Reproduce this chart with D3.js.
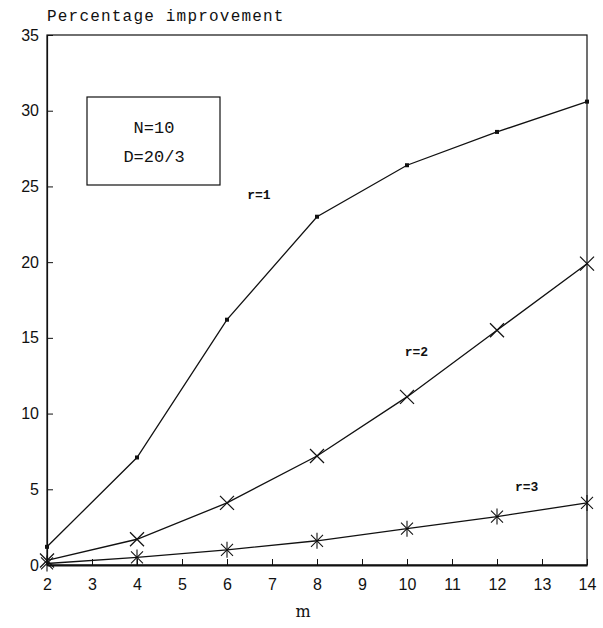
<!DOCTYPE html>
<html>
<head>
<meta charset="utf-8">
<script src="https://cdn.jsdelivr.net/npm/d3@7"></script>
<style>
  body { margin: 0; background: #fff; }
</style>
</head>
<body>
<div id="chart"></div>
<script>
// data
const mValues = [2, 4, 6, 8, 10, 12, 14];
const r1 = [1.2, 7.1, 16.2, 23.0, 26.4, 28.6, 30.6];
const r2 = [0.3, 1.7, 4.1, 7.2, 11.1, 15.5, 19.9];
const r3 = [0.1, 0.5, 1.0, 1.6, 2.4, 3.2, 4.1];
const xTicks = [2, 3, 4, 5, 6, 7, 8, 9, 10, 11, 12, 13, 14];
const yTicks = [0, 5, 10, 15, 20, 25, 30, 35];
const legendLines = ["N=10", "D=20/3"];

const width = 603, height = 628;
const margin = {top: 35, right: 16, bottom: 63, left: 47};

const svg = d3.select("#chart")
    .append("svg")
    .attr("width", width)
    .attr("height", height);

const x = d3.scaleLinear().domain([2, 14]).range([margin.left, width - margin.right]);
const y = d3.scaleLinear().domain([0, 35]).range([height - margin.bottom, margin.top]);

const ink = "#111";

// frame
svg.append("rect")
    .attr("x", x(2)).attr("y", y(35))
    .attr("width", x(14) - x(2)).attr("height", y(0) - y(35))
    .attr("fill", "none").attr("stroke", ink).attr("stroke-width", 1.2);

// bottom axis, ticks pointing inward
const xAxis = svg.append("g")
    .attr("transform", `translate(0,${y(0)})`)
    .call(d3.axisBottom(x).tickValues(xTicks).tickSizeInner(-6).tickSizeOuter(0).tickPadding(14));
xAxis.select(".domain").attr("stroke", ink).attr("stroke-width", 2);
xAxis.selectAll("line").attr("stroke", ink);
xAxis.selectAll("text")
    .attr("font-family", "Liberation Sans, sans-serif")
    .attr("font-size", "16px").attr("fill", ink);

// left axis, ticks pointing inward
const yAxis = svg.append("g")
    .attr("transform", `translate(${x(2)},0)`)
    .call(d3.axisLeft(y).tickValues(yTicks).tickSizeInner(-6).tickSizeOuter(0).tickPadding(8));
yAxis.select(".domain").attr("stroke", ink).attr("stroke-width", 1.2);
yAxis.selectAll("line").attr("stroke", ink);
yAxis.selectAll("text")
    .attr("font-family", "Liberation Sans, sans-serif")
    .attr("font-size", "16px").attr("fill", ink);

// titles
svg.append("text")
    .attr("x", 47).attr("y", 21)
    .attr("font-family", "Liberation Mono, monospace")
    .attr("font-size", "16px").attr("letter-spacing", "1.2px")
    .attr("fill", ink)
    .text("Percentage improvement");

svg.append("text")
    .attr("x", (x(2) + x(14)) / 2 - 14).attr("y", 617)
    .attr("text-anchor", "middle")
    .attr("font-family", "DejaVu Serif, serif")
    .attr("font-size", "16px").attr("fill", ink)
    .text("m");

// lines
const line = d3.line().x((d, i) => x(mValues[i])).y(d => y(d));
[r1, r2, r3].forEach(series => {
    svg.append("path")
        .attr("d", line(series))
        .attr("fill", "none").attr("stroke", ink).attr("stroke-width", 1.3);
});

// r=1: small filled squares
svg.selectAll(".m1").data(r1).enter().append("rect")
    .attr("x", (d, i) => x(mValues[i]) - 2)
    .attr("y", d => y(d) - 2)
    .attr("width", 4).attr("height", 4).attr("fill", ink);

// r=2: crosses
const cross = (g, s) => {
    g.append("line").attr("x1", -s).attr("y1", -s).attr("x2", s).attr("y2", s);
    g.append("line").attr("x1", -s).attr("y1", s).attr("x2", s).attr("y2", -s);
};
svg.selectAll(".m2").data(r2).enter().append("g")
    .attr("transform", (d, i) => `translate(${x(mValues[i])},${y(d)})`)
    .attr("stroke", ink).attr("stroke-width", 1.2)
    .each(function () { cross(d3.select(this), 7); });

// r=3: asterisks
svg.selectAll(".m3").data(r3).enter().append("g")
    .attr("transform", (d, i) => `translate(${x(mValues[i])},${y(d)})`)
    .attr("stroke", ink).attr("stroke-width", 1.1)
    .each(function () {
        const g = d3.select(this);
        cross(g, 6);
        g.append("line").attr("x1", 0).attr("y1", -8).attr("x2", 0).attr("y2", 8);
    });

// series labels
const labelFont = "Liberation Mono, monospace";
[["r=1", 6.45, 24.2], ["r=2", 9.95, 13.8], ["r=3", 12.4, 4.9]].forEach(([t, mx, vy]) => {
    svg.append("text")
        .attr("x", x(mx)).attr("y", y(vy))
        .attr("font-family", labelFont).attr("font-size", "13px")
        .attr("font-weight", "bold")
        .attr("fill", ink).text(t);
});

// legend box
svg.append("rect")
    .attr("x", 87).attr("y", 97).attr("width", 133).attr("height", 88)
    .attr("fill", "none").attr("stroke", ink).attr("stroke-width", 1.2);
legendLines.forEach((t, i) => {
    svg.append("text")
        .attr("x", 154).attr("y", 133 + i * 29)
        .attr("text-anchor", "middle")
        .attr("font-family", "Liberation Mono, monospace")
        .attr("font-size", "17px").attr("fill", ink)
        .text(t);
});
</script>
</body>
</html>
